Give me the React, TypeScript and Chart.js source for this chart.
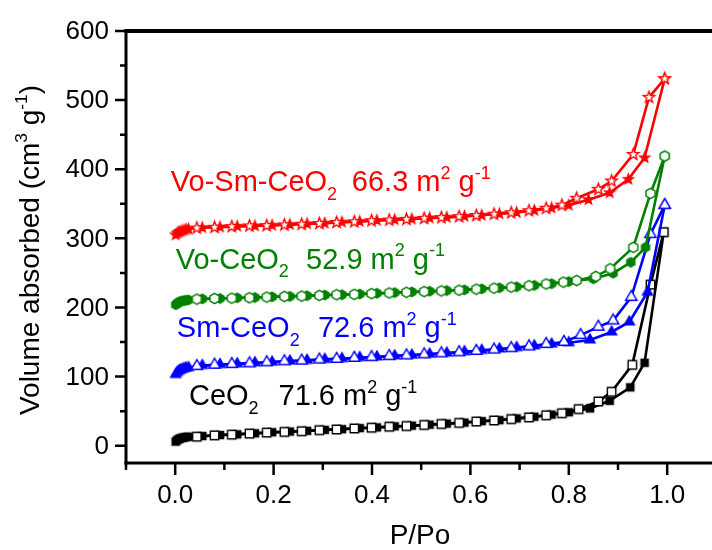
import React, { useEffect, useRef } from "react";
import { Chart, registerables } from "chart.js";
Chart.register(...registerables);

// ---------- axis ticks ----------
const X_TICKS = [0, 0.2, 0.4, 0.6, 0.8, 1.0];
const X_TICK_LABELS = ["0.0", "0.2", "0.4", "0.6", "0.8", "1.0"];
const X_MINOR = [-0.1, 0.1, 0.3, 0.5, 0.7, 0.9];
const Y_TICKS = [0, 100, 200, 300, 400, 500, 600];
const Y_TICK_LABELS = ["0", "100", "200", "300", "400", "500", "600"];
const Y_MINOR = [50, 150, 250, 350, 450, 550];

// ---------- relative pressure grids ----------
const P_ADS_LOW = [0.001, 0.004, 0.007, 0.01, 0.014, 0.018, 0.022, 0.027, 0.055, 0.091, 0.126, 0.162, 0.197, 0.233, 0.268, 0.304, 0.339, 0.375, 0.41, 0.446, 0.481, 0.517, 0.552, 0.588, 0.623, 0.659, 0.694, 0.73, 0.765, 0.8];
const P_DES_LOW = [0.044, 0.08, 0.115, 0.151, 0.186, 0.222, 0.257, 0.293, 0.328, 0.364, 0.399, 0.435, 0.47, 0.506, 0.541, 0.577, 0.612, 0.648, 0.683, 0.719, 0.754];

// ---------- CeO2 ----------
const CEO2_ADS_V = [6, 8, 9.5, 10.5, 11.5, 12, 12.5, 13, 14, 15.5, 16.5, 18, 19.5, 20.5, 21.5, 23, 24, 25.5, 26.5, 28, 29, 30.5, 32, 33.5, 35.5, 37, 39.5, 42, 45, 48.5];
const CEO2_ADS_TAIL_P = [0.843, 0.883, 0.925, 0.954, 0.993];
const CEO2_ADS_TAIL_V = [54, 65, 84.5, 120, 309];
const CEO2_DES_V = [13, 15, 16, 17.5, 19, 20, 21, 22.5, 23.5, 25, 26, 27.5, 28.5, 30, 31.5, 33, 35, 36.5, 38.5, 41, 44];
const CEO2_DES_TAIL_P = [0.786, 0.82, 0.86, 0.887, 0.929, 0.966, 0.993];
const CEO2_DES_TAIL_V = [47, 53, 64, 78, 117, 233, 309];

// ---------- Sm-CeO2 ----------
const SM_ADS_V = [103, 106, 108, 109.5, 110.5, 111.5, 112.5, 113, 116, 117.5, 118.5, 120, 121, 122.5, 123.5, 125, 126, 127.5, 128.5, 130, 131, 132.5, 134, 136, 138, 140, 142, 144.5, 147, 149];
const SM_ADS_TAIL_P = [0.843, 0.887, 0.923, 0.96, 0.995];
const SM_ADS_TAIL_V = [153, 164.6, 179, 222, 348];
const SM_DES_V = [115, 117, 118, 119, 120.5, 122, 123, 124.5, 125.5, 127, 128, 129.5, 130.5, 132, 133.5, 135, 137, 139, 141, 143.5, 147];
const SM_DES_TAIL_P = [0.79, 0.824, 0.86, 0.89, 0.927, 0.966, 0.995];
const SM_DES_TAIL_V = [150, 160, 172, 181, 215, 306, 348];

// ---------- Vo-CeO2 ----------
const VO_ADS_V = [204, 206, 207.5, 208.5, 209.5, 210, 210.5, 211, 212.5, 213, 214, 214.5, 215.5, 216, 217, 218, 218.5, 219.5, 220.5, 221.5, 222.5, 223.5, 224.5, 225.5, 227, 228.5, 230, 232, 234.5, 237.5];
const VO_ADS_TAIL_P = [0.85, 0.89, 0.926, 0.956, 0.995];
const VO_ADS_TAIL_V = [241.5, 249.6, 265.4, 287, 419];
const VO_DES_V = [212, 213, 213.5, 214, 215, 216, 216.5, 217.5, 218.5, 219, 220, 221, 222, 223, 224, 225, 226.5, 228, 229.5, 231.5, 234];
const VO_DES_TAIL_P = [0.789, 0.816, 0.855, 0.884, 0.931, 0.966, 0.995];
const VO_DES_TAIL_V = [236.6, 239, 245, 256, 287, 365, 419];

// ---------- Vo-Sm-CeO2 ----------
const VOSM_ADS_V = [305, 307.5, 309, 310, 311, 312, 313, 313.5, 315.5, 316.5, 317.5, 318, 319, 320, 321, 322, 323.5, 324.5, 326, 327, 328, 329.5, 330.5, 332, 333.5, 335.5, 337.5, 340.5, 344, 348];
const VOSM_ADS_TAIL_P = [0.84, 0.883, 0.921, 0.954, 0.995];
const VOSM_ADS_TAIL_V = [356, 366, 385.5, 416.6, 531];
const VOSM_DES_V = [315, 316, 317, 318, 318.5, 319.5, 320.5, 321.5, 323, 324, 325.5, 326.5, 327.5, 329, 330, 331.5, 333, 335, 337, 340, 343.5];
const VOSM_DES_TAIL_P = [0.786, 0.816, 0.86, 0.887, 0.931, 0.963, 0.995];
const VOSM_DES_TAIL_V = [348, 358, 371, 383, 421.5, 504, 531];

// ---------- annotation text ----------
const SAMPLE_NAMES = ["Vo-Sm-CeO", "Vo-CeO", "Sm-CeO", "CeO"];
const SURFACE_AREAS = ["66.3", "52.9", "72.6", "71.6"];

const COLORS = ["#ff0000", "#008000", "#0000ff", "#000000"];
const SHAPES = ["star", "hexagon", "triangle", "square"];
// label anchors in data units: [name x, number x, baseline y]
const LABEL_POS = [
  [-0.009, 0.359, 368.6],
  [0.001, 0.266, 256.3],
  [0.0034, 0.29, 157],
  [0.028, 0.21, 59],
];

const FONT = '"Liberation Sans", Arial, sans-serif';

function makeMarker(shape: string, color: string, filled: boolean, r: number) {
  const lw = 1.4;
  const size = Math.ceil(r * 2 + lw + 3);
  const c = document.createElement("canvas");
  c.width = size;
  c.height = size;
  const g = c.getContext("2d")!;
  const cx = size / 2;
  const cy = size / 2;
  g.beginPath();
  if (shape === "square") {
    g.rect(cx - r, cy - r, 2 * r, 2 * r);
  } else if (shape === "triangle") {
    g.moveTo(cx, cy - r);
    g.lineTo(cx + r * 0.866, cy + r * 0.5);
    g.lineTo(cx - r * 0.866, cy + r * 0.5);
    g.closePath();
  } else if (shape === "hexagon") {
    for (let i = 0; i < 6; i++) {
      const a = (Math.PI / 3) * i - Math.PI / 2;
      const px = cx + r * Math.cos(a);
      const py = cy + r * Math.sin(a);
      if (i === 0) g.moveTo(px, py);
      else g.lineTo(px, py);
    }
    g.closePath();
  } else {
    for (let i = 0; i < 10; i++) {
      const a = (Math.PI / 5) * i - Math.PI / 2;
      const rr = i % 2 === 0 ? r : r * 0.42;
      const px = cx + rr * Math.cos(a);
      const py = cy + rr * Math.sin(a);
      if (i === 0) g.moveTo(px, py);
      else g.lineTo(px, py);
    }
    g.closePath();
  }
  g.fillStyle = filled ? color : "#ffffff";
  g.fill();
  g.strokeStyle = color;
  g.lineWidth = lw;
  g.stroke();
  return c;
}

type Part = { t: string; s?: "sub" | "sup" };

function richWidth(ctx: CanvasRenderingContext2D, parts: Part[], size: number) {
  let w = 0;
  for (const p of parts) {
    ctx.font = `${p.s ? size * 0.62 : size}px ${FONT}`;
    w += ctx.measureText(p.t).width;
  }
  return w;
}

function drawRich(ctx: CanvasRenderingContext2D, x: number, y: number, parts: Part[], size: number) {
  let cx = x;
  ctx.textBaseline = "alphabetic";
  ctx.textAlign = "left";
  for (const p of parts) {
    const fs = p.s ? size * 0.62 : size;
    ctx.font = `${fs}px ${FONT}`;
    const dy = p.s === "sub" ? size * 0.3 : p.s === "sup" ? -size * 0.42 : 0;
    ctx.fillText(p.t, cx, y + dy);
    cx += ctx.measureText(p.t).width;
  }
  return cx;
}

const framePlugin = {
  id: "frame",
  afterDraw(chart: any) {
    const ctx: CanvasRenderingContext2D = chart.ctx;
    const xs = chart.scales.x;
    const ys = chart.scales.y;
    const L = xs.getPixelForValue(-0.1);
    const R = xs.getPixelForValue(1.1);
    const T = ys.getPixelForValue(600);
    const B = ys.getPixelForValue(-25);
    ctx.save();
    ctx.fillStyle = "#000000";
    // frame: left, bottom, top, right
    ctx.fillRect(L - 1.5, T - 1.5, 3, B - T + 3);
    ctx.fillRect(L - 1.5, B - 1.5, R - L + 3, 3);
    ctx.fillRect(L - 1.5, T - 2, R - L + 3, 4);
    ctx.fillRect(R - 1.5, T - 1.5, 3, B - T + 3);
    // ticks
    ctx.strokeStyle = "#000000";
    ctx.lineCap = "butt";
    ctx.lineWidth = 2.5;
    ctx.beginPath();
    for (const v of X_TICKS) {
      const px = xs.getPixelForValue(v);
      ctx.moveTo(px, B);
      ctx.lineTo(px, B + 12);
    }
    for (const v of X_MINOR) {
      const px = xs.getPixelForValue(v);
      ctx.moveTo(px, B);
      ctx.lineTo(px, B + 7);
    }
    for (const v of Y_TICKS) {
      const py = ys.getPixelForValue(v);
      ctx.moveTo(L, py);
      ctx.lineTo(L - 11, py);
    }
    for (const v of Y_MINOR) {
      const py = ys.getPixelForValue(v);
      ctx.moveTo(L, py);
      ctx.lineTo(L - 6, py);
    }
    ctx.stroke();
    // tick labels
    ctx.font = `26px ${FONT}`;
    ctx.textAlign = "right";
    ctx.textBaseline = "middle";
    Y_TICKS.forEach((v, i) => {
      ctx.fillText(Y_TICK_LABELS[i], L - 17, ys.getPixelForValue(v) + 1);
    });
    ctx.textAlign = "center";
    X_TICKS.forEach((v, i) => {
      ctx.fillText(X_TICK_LABELS[i], xs.getPixelForValue(v), B + 33);
    });
    // axis titles
    ctx.font = `28px ${FONT}`;
    ctx.textBaseline = "alphabetic";
    ctx.textAlign = "center";
    ctx.fillText("P/Po", 420, 544);
    const yParts: Part[] = [
      { t: "Volume absorbed (cm" },
      { t: "3", s: "sup" },
      { t: " g" },
      { t: "-1", s: "sup" },
      { t: ")" },
    ];
    ctx.save();
    ctx.translate(39, 250);
    ctx.rotate(-Math.PI / 2);
    const w = richWidth(ctx, yParts, 28);
    drawRich(ctx, -w / 2, 0, yParts, 28);
    ctx.restore();
    // sample annotations
    SAMPLE_NAMES.forEach((name, i) => {
      const [nx, ax, yv] = LABEL_POS[i];
      const by = ys.getPixelForValue(yv);
      ctx.fillStyle = COLORS[i];
      drawRich(ctx, xs.getPixelForValue(nx), by, [{ t: name }, { t: "2", s: "sub" }], 29);
      drawRich(
        ctx,
        xs.getPixelForValue(ax),
        by,
        [{ t: SURFACE_AREAS[i] + " m" }, { t: "2", s: "sup" }, { t: " g" }, { t: "-1", s: "sup" }],
        29
      );
    });
    ctx.restore();
  },
};

function pts(p: number[], v: number[]) {
  return p.map((x, i) => ({ x, y: v[i] }));
}

export default function App() {
  const ref = useRef<HTMLCanvasElement>(null);
  useEffect(() => {
    const series = [
      { ads: pts([...P_ADS_LOW, ...VOSM_ADS_TAIL_P], [...VOSM_ADS_V, ...VOSM_ADS_TAIL_V]), des: pts([...P_DES_LOW, ...VOSM_DES_TAIL_P], [...VOSM_DES_V, ...VOSM_DES_TAIL_V]) },
      { ads: pts([...P_ADS_LOW, ...VO_ADS_TAIL_P], [...VO_ADS_V, ...VO_ADS_TAIL_V]), des: pts([...P_DES_LOW, ...VO_DES_TAIL_P], [...VO_DES_V, ...VO_DES_TAIL_V]) },
      { ads: pts([...P_ADS_LOW, ...SM_ADS_TAIL_P], [...SM_ADS_V, ...SM_ADS_TAIL_V]), des: pts([...P_DES_LOW, ...SM_DES_TAIL_P], [...SM_DES_V, ...SM_DES_TAIL_V]) },
      { ads: pts([...P_ADS_LOW, ...CEO2_ADS_TAIL_P], [...CEO2_ADS_V, ...CEO2_ADS_TAIL_V]), des: pts([...P_DES_LOW, ...CEO2_DES_TAIL_P], [...CEO2_DES_V, ...CEO2_DES_TAIL_V]) },
    ];
    const openR = [6, 5.2, 6.6, 4.2];
    const fillR = [5.2, 4.6, 5.8, 3.6];
    const datasets: any[] = [];
    series.forEach((s, i) => {
      const color = COLORS[i];
      datasets.push({
        data: s.des,
        borderColor: color,
        borderWidth: 2.6,
        pointStyle: makeMarker(SHAPES[i], color, false, openR[i]),
        pointRadius: 5,
        tension: 0,
        order: i * 2,
      });
      datasets.push({
        data: s.ads,
        borderColor: color,
        borderWidth: 2.6,
        pointStyle: makeMarker(SHAPES[i], color, true, fillR[i]),
        pointRadius: 5,
        tension: 0,
        order: i * 2 + 1,
      });
    });
    const chart = new Chart(ref.current!, {
      type: "line",
      data: { datasets },
      options: {
        responsive: false,
        animation: false,
        devicePixelRatio: 1,
        layout: { padding: { top: 31, left: 0, right: 3, bottom: 0 } },
        plugins: { legend: { display: false }, tooltip: { enabled: false } },
        scales: {
          x: {
            type: "linear",
            min: -0.1,
            max: 1.1,
            grid: { display: false },
            border: { display: false },
            ticks: { display: false },
            afterFit: (s: any) => {
              s.height = 87;
            },
          },
          y: {
            type: "linear",
            min: -25,
            max: 600,
            grid: { display: false },
            border: { display: false },
            ticks: { display: false },
            afterFit: (s: any) => {
              s.width = 126;
            },
          },
        },
      } as any,
      plugins: [framePlugin],
    });
    return () => chart.destroy();
  }, []);
  return (
    <div style={{ position: "fixed", left: 0, top: 0, width: 712, height: 550, overflow: "hidden", background: "#fff" }}>
      <canvas ref={ref} width={724} height={550} style={{ display: "block", width: 724, height: 550 }} />
    </div>
  );
}
